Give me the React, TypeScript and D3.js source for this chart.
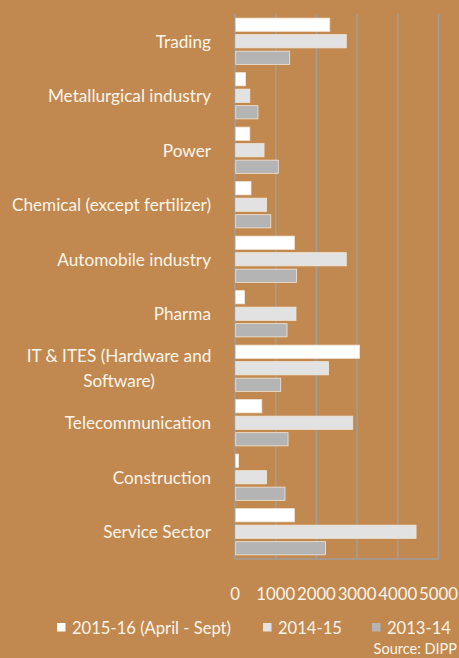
import React from "react";
import * as d3 from "d3";

const categories = [
  "Trading",
  "Metallurgical industry",
  "Power",
  "Chemical (except fertilizer)",
  "Automobile industry",
  "Pharma",
  "IT & ITES (Hardware and Software)",
  "Telecommunication",
  "Construction",
  "Service Sector",
];
const seriesNames = ["2015-16 (April - Sept)", "2014-15", "2013-14"];
const s2015 = [2310, 240, 345, 375, 1440, 215, 3040, 640, 70, 1440];
const s2014 = [2715, 345, 695, 755, 2715, 1480, 2280, 2875, 755, 4430];
const s2013 = [1325, 545, 1045, 860, 1495, 1260, 1105, 1285, 1210, 2205];
const xTicks = [0, 1000, 2000, 3000, 4000, 5000];
const seriesColors = ["#FFFFFF", "#E2E2E2", "#B4B4B4"];

const W = 459;
const H = 658;
const BG = "#C1894F";
const TXT = "#FBF4EA";
const GRID = "#9E9E9E";
const FONT = "Lato, 'Open Sans', sans-serif";

export default function App() {
  const x = d3.scaleLinear().domain([0, 5000]).range([235, 438.5]);
  const y = d3.scaleBand().domain(categories).range([14, 559]).paddingInner(0).paddingOuter(0);
  const inner = d3
    .scaleBand()
    .domain(seriesNames)
    .range([0, y.bandwidth()])
    .paddingInner(0.2)
    .paddingOuter(0.25);
  const data = [s2015, s2014, s2013];

  const labelLines = (c: string) =>
    c.startsWith("IT & ITES") ? ["IT & ITES (Hardware and", "Software)"] : [c];

  return (
    <div style={{ position: "fixed", left: 0, top: 0, width: W, height: H }}>
      <svg width={W} height={H} style={{ display: "block" }}>
        <defs>
          <clipPath id="clipL">
            <rect x={10} y={0} width={W - 10} height={H} />
          </clipPath>
        </defs>
        <rect x={0} y={0} width={W} height={H} fill={BG} />
        {xTicks.map((t) => (
          <line key={t} x1={x(t)} x2={x(t)} y1={14} y2={559} stroke={GRID} strokeWidth={1.5} />
        ))}
        <line x1={x(0)} x2={x(5000)} y1={559} y2={559} stroke={GRID} strokeWidth={1.5} />
        {categories.map((c, i) =>
          data.map((s, j) => (
            <rect
              key={c + j}
              x={x(0) + 0.75}
              y={(y(c) as number) + (inner(seriesNames[j]) as number)}
              width={Math.max(0, x(s[i]) - x(0))}
              height={inner.bandwidth()}
              fill={seriesColors[j]}
              stroke="#F3E6D6"
              strokeWidth={0.8}
            />
          ))
        )}
        <g clipPath="url(#clipL)" fontFamily={FONT} fontSize={17.2} fill={TXT}>
          {categories.map((c) => {
            const lines = labelLines(c);
            const cy = (y(c) as number) + y.bandwidth() / 2;
            if (lines.length === 1) {
              return (
                <text key={c} x={211} y={cy} textAnchor="end" dominantBaseline="central">
                  {c}
                </text>
              );
            }
            return (
              <g key={c}>
                <text x={119} y={cy - 12.5} textAnchor="middle" dominantBaseline="central">
                  {lines[0]}
                </text>
                <text x={119} y={cy + 12.5} textAnchor="middle" dominantBaseline="central">
                  {lines[1]}
                </text>
              </g>
            );
          })}
        </g>
        <g fontFamily={FONT} fontSize={16.8} fill={TXT}>
          {xTicks.map((t) => (
            <text key={t} x={x(t)} y={593} textAnchor="middle" dominantBaseline="central">
              {t}
            </text>
          ))}
        </g>
        <g fontFamily={FONT} fontSize={16.6} fill={TXT}>
          {seriesNames.map((n, j) => {
            const lx = [57, 263, 372][j];
            return (
              <g key={n}>
                <rect x={lx} y={623} width={8.5} height={8.5} fill={seriesColors[j]} />
                <text x={lx + 15} y={627.5} dominantBaseline="central">
                  {n}
                </text>
              </g>
            );
          })}
        </g>
        <text x={457} y={648.5} textAnchor="end" dominantBaseline="central" fontFamily={FONT} fontSize={14.5} fill={TXT}>
          Source: DIPP
        </text>
      </svg>
    </div>
  );
}
